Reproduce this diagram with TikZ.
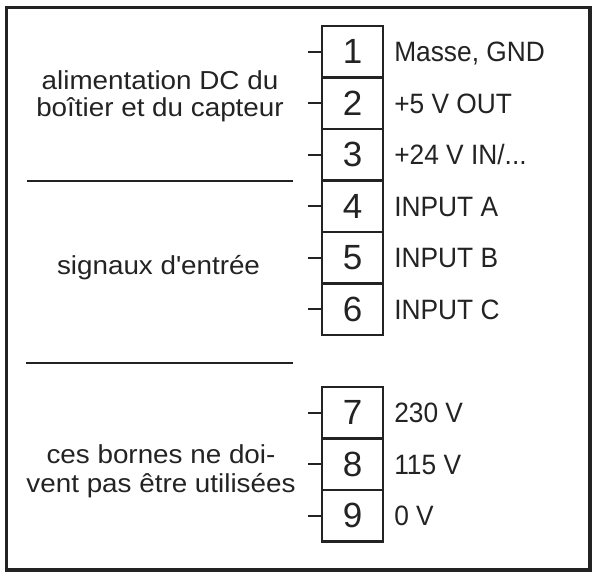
\documentclass[tikz,border=0pt]{standalone}
\usepackage{fontspec}
\setmainfont{Liberation Sans}
\newfontfamily\lefttxtfam[FakeStretch=1.07]{Liberation Sans}
\newfontfamily\lblfam[FakeStretch=0.94]{Liberation Sans}
\newfontfamily\numfam{Liberation Sans}
\definecolor{ink}{RGB}{35,35,35}
\begin{document}
\begin{tikzpicture}[x=0.75pt,y=-0.75pt,
  frame/.style={draw=ink, line width=2.4pt},
  term/.style={draw=ink, line width=1.8pt, minimum width=45.75pt, minimum height=38.625pt, inner sep=0pt, font=\numfam\fontsize{26.25}{30}\selectfont, text=ink},
  lbl/.style={anchor=base west, inner sep=0pt, font=\lblfam\fontsize{21}{25}\selectfont, text=ink},
  grp/.style={align=center, inner sep=0pt, text=ink},
  sep/.style={draw=ink, line width=2.2pt},
  tick/.style={draw=ink, line width=1.8pt}]
\useasboundingbox (0,0) rectangle (593,573);
\draw[frame] (6.5,7.5) rectangle (590,570);
\foreach \n/\yc/\txt in {1/51.75/{Masse, GND},2/103.25/{+5 V OUT},3/154.75/{+24 V IN/...},4/206.25/{INPUT A},5/257.75/{INPUT B},6/309.25/{INPUT C},7/412.75/{230 V},8/464.25/{115 V},9/515.75/{0 V}}{
  \node[term] (t\n) at (352.5,\yc) {\n};
  \coordinate (w\n) at (308,\yc);
  \draw[tick] (w\n) -- (t\n.west);
  \node[lbl] (l\n) at (394,\yc+10) {\txt};
}
\coordinate (s1a) at (27,181);
\coordinate (s1b) at (293,181);
\draw[sep] (s1a) -- (s1b);
\coordinate (s2a) at (26,363);
\coordinate (s2b) at (293,363);
\draw[sep] (s2a) -- (s2b);
\node[grp, font=\lefttxtfam\fontsize{19.5}{20.25}\selectfont] (g1) at (160,96) {alimentation DC du\\boîtier et du capteur};
\node[grp, anchor=base, font=\lefttxtfam\fontsize{19.5}{20.25}\selectfont] (g2) at (158.5,275) {signaux d\textquotesingle entrée};
\node[grp, font=\lefttxtfam\fontsize{19.5}{22}\selectfont] (g3) at (161,471.2) {ces bornes ne doi-\\vent pas être utilisées};
\end{tikzpicture}
\end{document}
